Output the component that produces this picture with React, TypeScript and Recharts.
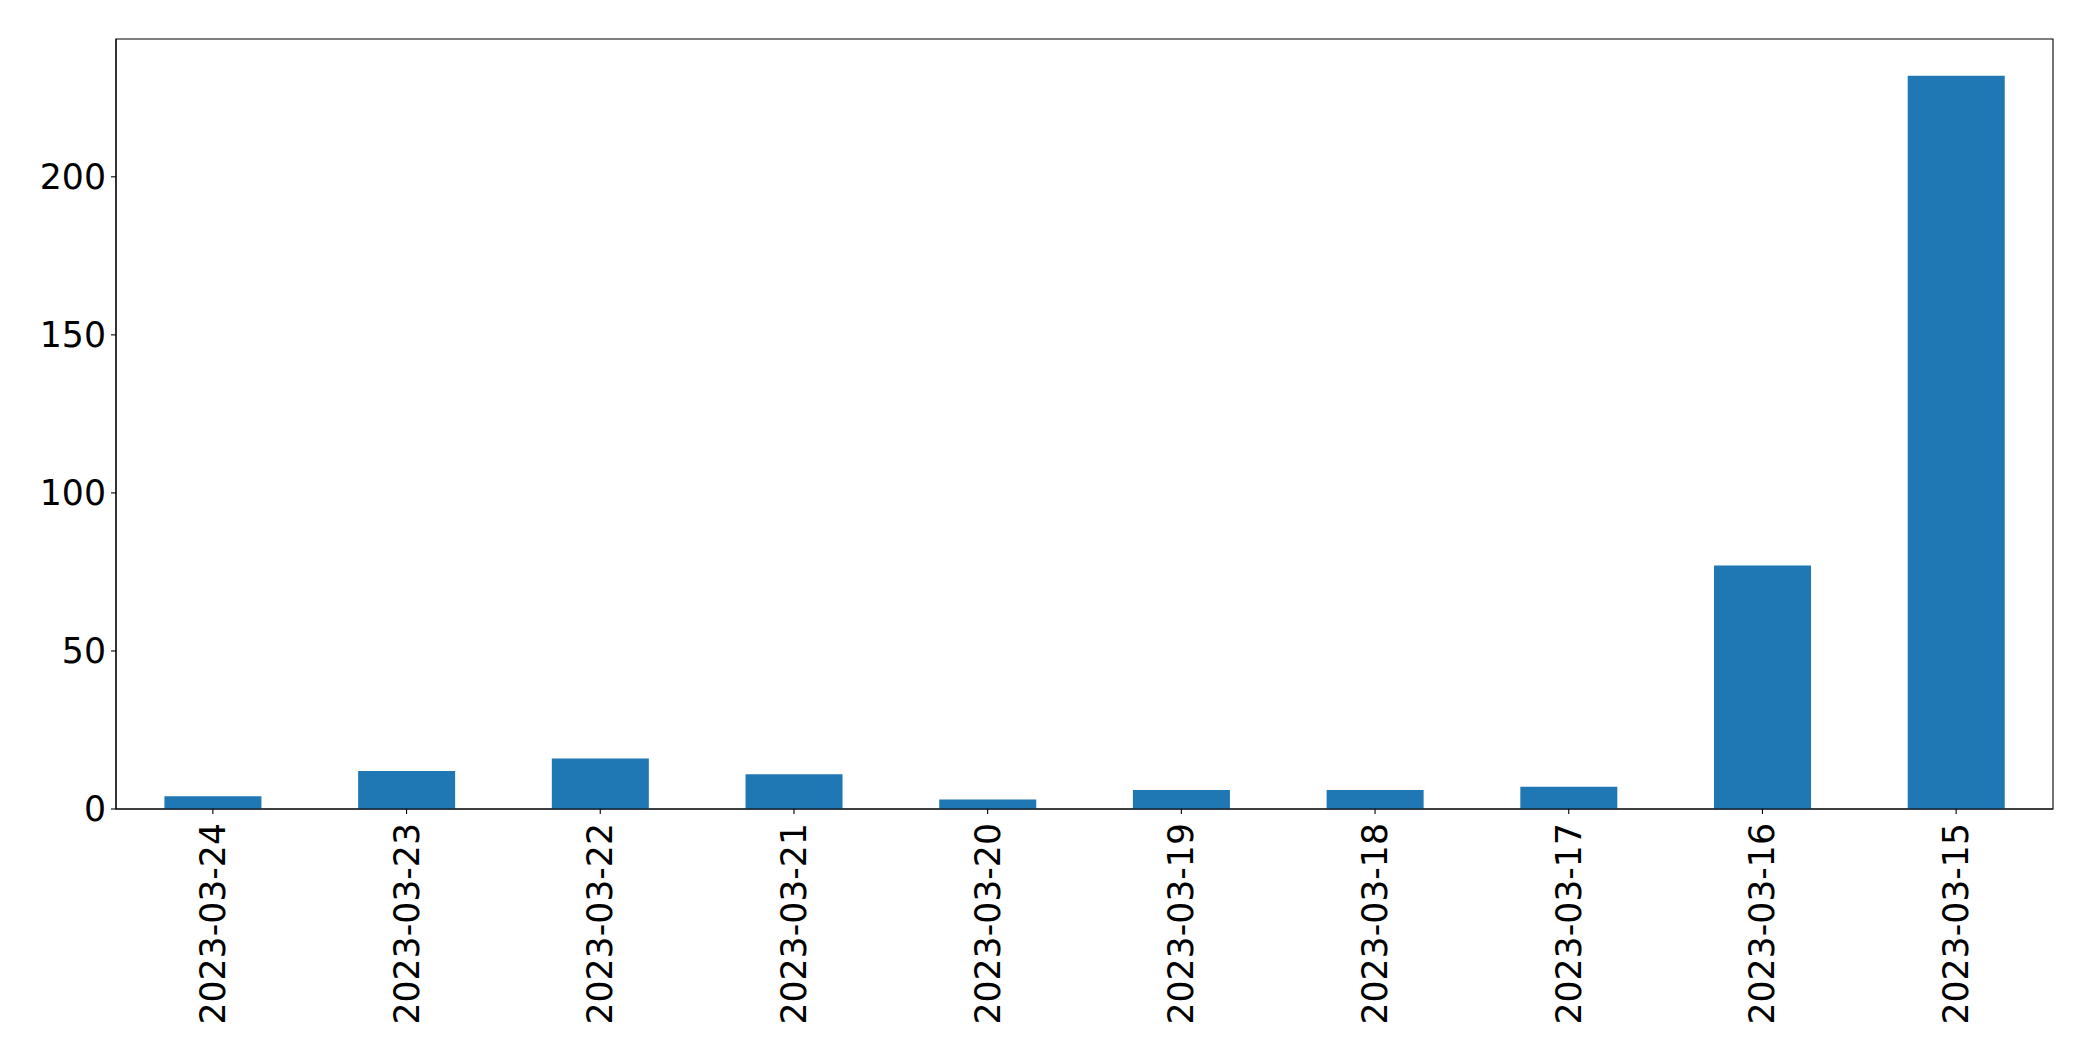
import React from "react";
import { BarChart, Bar, XAxis, YAxis, ReferenceArea } from "recharts";

const dates = [
  "2023-03-24",
  "2023-03-23",
  "2023-03-22",
  "2023-03-21",
  "2023-03-20",
  "2023-03-19",
  "2023-03-18",
  "2023-03-17",
  "2023-03-16",
  "2023-03-15",
];
const counts = [4, 12, 16, 11, 3, 6, 6, 7, 77, 232];
const yTicks = [0, 50, 100, 150, 200];
const yMax = 243.6;

const data = dates.map((d, i) => ({ date: d, count: counts[i] }));

const FONT = "'DejaVu Sans', sans-serif";
const FS = 34.7;

const XTick = (props: any) => {
  const { x, y, payload } = props;
  return (
    <text
      x={x}
      y={y + 4}
      transform={`rotate(-90, ${x}, ${y + 4})`}
      textAnchor="end"
      dominantBaseline="central"
      fontFamily={FONT}
      fontSize={FS}
      fill="#000"
    >
      {payload.value}
    </text>
  );
};

const YTick = (props: any) => {
  const { x, y, payload } = props;
  return (
    <text
      x={x}
      y={y}
      textAnchor="end"
      dominantBaseline="central"
      fontFamily={FONT}
      fontSize={FS}
      fill="#000"
    >
      {payload.value}
    </text>
  );
};

export default function App() {
  return (
    <div style={{ width: 2077, height: 1045, background: "#fff" }}>
      <BarChart
        width={2077}
        height={1045}
        data={data}
        margin={{ top: 31, right: 32, bottom: 14, left: 0 }}
        barCategoryGap="25%"
      >
        <XAxis
          dataKey="date"
          height={230}
          tick={<XTick />}
          tickSize={5}
          tickMargin={5}
          axisLine={{ stroke: "#000", strokeWidth: 1.1 }}
          tickLine={{ stroke: "#000", strokeWidth: 1.1 }}
          interval={0}
        />
        <YAxis
          width={108}
          domain={[0, yMax]}
          ticks={yTicks}
          tick={<YTick />}
          tickSize={5}
          tickMargin={5}
          axisLine={{ stroke: "#000", strokeWidth: 1.1 }}
          tickLine={{ stroke: "#000", strokeWidth: 1.1 }}
          allowDataOverflow
        />
        <Bar dataKey="count" fill="#1f77b4" isAnimationActive={false} />
        <ReferenceArea
          x1={dates[0]}
          x2={dates[dates.length - 1]}
          y1={0}
          y2={yMax}
          fill="none"
          fillOpacity={0}
          stroke="#000"
          strokeWidth={1.1}
          strokeOpacity={1}
          ifOverflow="visible"
        />
      </BarChart>
    </div>
  );
}
